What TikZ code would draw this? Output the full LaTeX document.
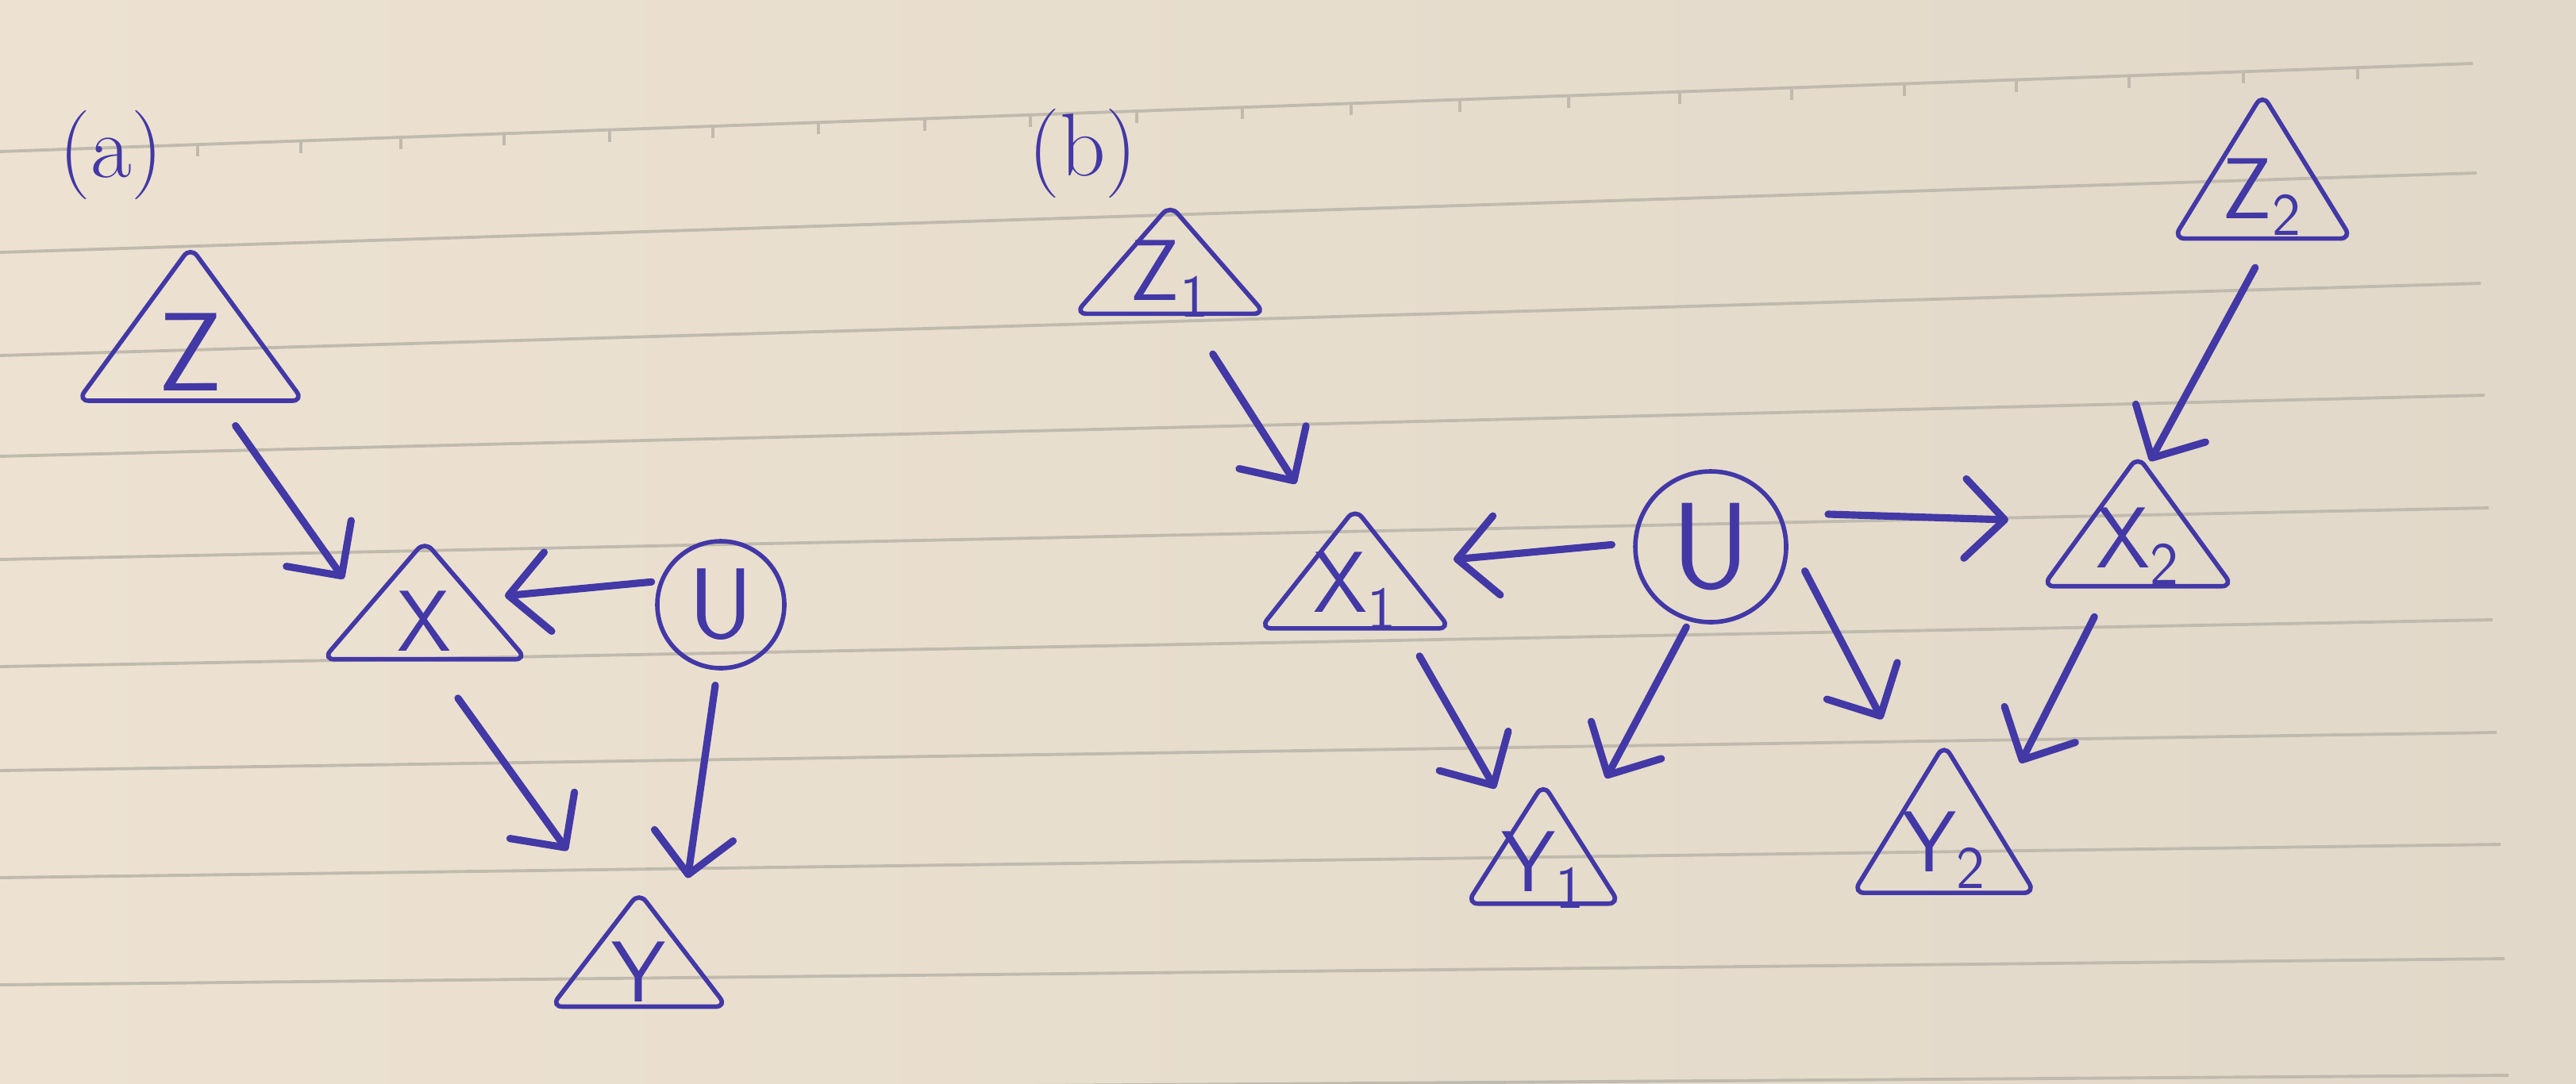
\documentclass[tikz,border=0pt]{standalone}
\usepackage{tikz}
\usetikzlibrary{shapes.geometric,arrows.meta}

\definecolor{ink}{RGB}{66,56,166}
\definecolor{paperL}{RGB}{237,226,209}
\definecolor{paperR}{RGB}{225,216,201}
\definecolor{ruled}{RGB}{192,186,174}

\tikzset{
  tri/.style={draw=ink, line width=1.6pt, isosceles triangle,
    isosceles triangle stretches, shape border rotate=90,
    rounded corners=4pt, inner sep=0pt,
    label={[text=ink, yshift=-3pt, font=\sffamily\fontsize{31}{36}\selectfont]center:#1}},
  var/.style={draw=ink, line width=1.6pt, text=ink, circle, inner sep=0pt,
    font=\sffamily\fontsize{36}{40}\selectfont},
  lbl/.style={text=ink, font=\fontsize{32}{38}\selectfont},
  arr/.style={draw=ink, line width=2.6pt, line cap=round,
    -{Straight Barb[length=5mm,width=10mm,round]}},
  rule/.style={draw=ruled, line width=1.1pt}
}

\begin{document}
\begin{tikzpicture}
                \useasboundingbox (0,0) rectangle (32.45,-13.65);
                \shade[left color=paperL, right color=paperR] (0,0) rectangle (32.45,-13.65);

                % ruled lines of the notebook
                \foreach \yl/\yr/\xe in {1.91/0.80/31.15, 3.18/2.18/31.2, 4.48/3.57/31.25,
                    5.75/4.98/31.3, 7.05/6.40/31.35, 8.40/7.81/31.4, 9.71/9.23/31.45,
                    11.06/10.64/31.5, 12.41/12.08/31.55, 13.77/13.55/31.6}
                    \draw[rule] (0,-\yl) -- (\xe,-\yr);
                \foreach \tx in {2.49,3.79,5.05,6.35,7.68,8.98,10.31,11.65,12.98,14.32,15.65,
                    17.02,18.39,19.76,21.16,22.57,23.99,25.40,26.82,28.26,29.70}
                    \draw[rule] (\tx,{-1.91+0.0356*\tx}) -- ++(0,-0.15);

                \node[lbl] (lbla) at (1.40,-1.95) {(a)};
                \node[lbl] (lblb) at (13.64,-1.93) {(b)};

                % (a)
                \node[tri={\fontsize{40}{44}\selectfont Z}, minimum width=2.84cm, minimum height=1.94cm] (z) at (2.40,-4.33) {};
                \node[tri=X, minimum width=2.56cm, minimum height=1.49cm] (x) at (5.35,-7.72) {};
                \node[var, minimum size=1.6cm] (u) at (9.08,-7.62) {U};
                \node[tri=Y, minimum width=2.21cm, minimum height=1.44cm] (y) at (8.05,-12.14) {};

                \draw[arr, shorten <=0.35cm, shorten >=0.44cm] (z.-64) -- (x.175);
                \draw[arr, shorten <=0.1cm, shorten >=0.34cm] (u.159) -- (x.15);
                \draw[arr, shorten <=0.57cm, shorten >=1.04cm] (x.-82) -- (y.117);
                \draw[arr, shorten <=0.19cm, shorten >=0.78cm] (u.-93) -- (y.31);

                % (b)
                \node[tri={Z\textsubscript{1}}, minimum width=2.39cm, minimum height=1.37cm] (z1) at (14.74,-3.41) {};
                \node[tri={X\textsubscript{1}}, minimum width=2.39cm, minimum height=1.51cm] (x1) at (17.07,-7.34) {};
                \node[var, minimum size=1.9cm, font=\sffamily\fontsize{44}{48}\selectfont] (ub) at (21.55,-6.89) {U};
                \node[tri={Y\textsubscript{1}}, minimum width=1.92cm, minimum height=1.51cm] (y1) at (19.44,-10.86) {};
                \node[tri={X\textsubscript{2}}, minimum width=2.39cm, minimum height=1.64cm] (x2) at (26.93,-6.78) {};
                \node[tri={Y\textsubscript{2}}, minimum width=2.29cm, minimum height=1.87cm] (y2) at (24.49,-10.61) {};
                \node[tri={Z\textsubscript{2}}, minimum width=2.24cm, minimum height=1.82cm] (z2) at (28.50,-2.38) {};

                \draw[arr, shorten <=0.57cm, shorten >=0.78cm] (z1.-68) -- (x1.119);
                \draw[arr, shorten <=0.27cm, shorten >=0.64cm] (ub.177) -- (x1.21);
                \draw[arr, shorten <=0.37cm, shorten >=0.5cm] (x1.-44) -- (y1.126);
                \draw[arr, shorten <=0.08cm, shorten >=0.77cm] (ub.-106) -- (y1.41);
                \draw[arr, shorten <=0.6cm, shorten >=0.98cm] (ub.26) -- (x2.163);
                \draw[arr, shorten <=0.46cm, shorten >=0.93cm] (ub.6) -- (y2.116);
                \draw[arr, shorten <=0.4cm, shorten >=0.78cm] (x2.240) -- (y2.26);
                \draw[arr, shorten <=0.385cm, shorten >=0.05cm] (z2.-82) -- (x2.82);

            \end{tikzpicture}
\end{document}
